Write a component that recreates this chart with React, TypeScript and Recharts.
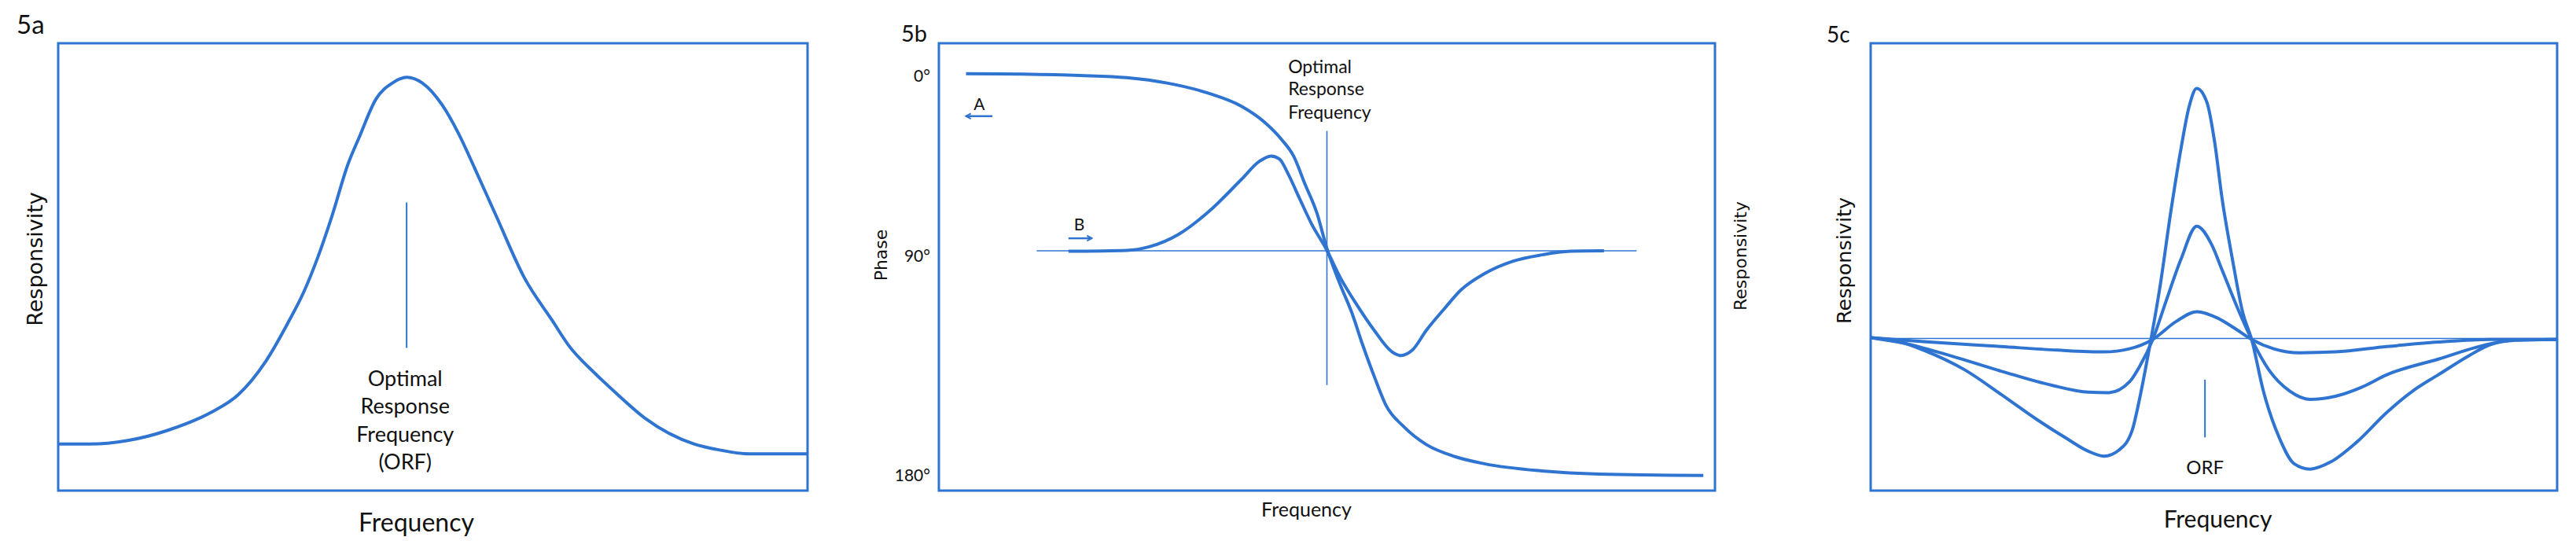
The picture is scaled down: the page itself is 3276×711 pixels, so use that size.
import React from 'react'
import {
  LineChart,
  Line,
  XAxis,
  YAxis,
  ReferenceArea,
  ReferenceLine,
  ReferenceDot,
} from 'recharts'

const BLUE = '#2f74d0'
const INK = '#111111'
const NARROW = 'Lato, "Noto Sans", sans-serif'
const WIDE = '"DejaVu Sans", Verdana, sans-serif'

// all panels use a 0..100 frequency axis and a 0..100 response axis (box fractions)

// 5a – single resonance curve
const resX = [0, 4.2, 9.3, 14.5, 20.3, 24.0, 27.7, 30.6, 32.8, 34.7, 36.5, 38.7, 40.2, 42.4, 44.6, 46.5, 48.6, 51.2, 53.4, 55.6, 58.5, 62.2, 65.9, 68.1, 71.7, 74.7, 78.3, 84.9, 87.9, 92.3, 100]
const resY = [10.4, 10.4, 11.2, 13.4, 17.4, 21.4, 28.9, 37.3, 44.5, 52.4, 61.2, 73.1, 79.1, 87.5, 91.1, 92.4, 91.1, 86.3, 79.9, 72.0, 61.2, 47.6, 38.1, 32.5, 26.1, 21.4, 16.2, 10.4, 9.2, 8.2, 8.2]
const orfA = { x: 46.5, top: 64.4, bottom: 31.9 }
const orfTextA = ['Optimal', 'Response', 'Frequency', '(ORF)']
const orfTextAY = [25.1, 18.9, 12.6, 6.4]

// 5b – phase (A) and responsivity (B)
const phaseX = [3.5, 10.8, 18.2, 24.2, 29.4, 34.6, 39.0, 42.0, 44.2, 45.7, 47.2, 48.7, 50.0, 51.7, 53.2, 54.6, 56.1, 57.6, 59.9, 62.8, 66.5, 70.3, 77.7, 85.1, 98.5]
const phaseY = [93.2, 93.1, 92.8, 92.3, 91.1, 88.9, 85.9, 82.3, 78.4, 74.8, 68.4, 62.1, 54.1, 46.1, 39.8, 32.6, 25.5, 19.1, 14.3, 10.3, 7.6, 6.0, 4.4, 3.7, 3.4]
const respBX = [16.7, 24.2, 27.1, 30.9, 35.3, 39.0, 41.3, 42.8, 43.9, 45.0, 46.5, 48.0, 50.0, 51.7, 53.9, 56.1, 58.4, 59.5, 61.0, 62.8, 65.1, 67.3, 70.3, 74.0, 77.7, 81.4, 85.7]
const respBY = [53.5, 53.7, 54.5, 57.3, 63.2, 69.6, 73.6, 74.8, 74.1, 70.8, 65.2, 59.7, 53.7, 47.7, 41.4, 35.8, 31.0, 30.2, 31.4, 35.8, 40.6, 44.9, 48.5, 51.3, 52.7, 53.5, 53.6]
const phaseTicks = [92.7, 52.4, 3.5]
const phaseTickLabels = ['0°', '90°', '180°']
const midLineB = { y: 53.6, from: 12.6, to: 89.9 }
const orfB = { x: 50.0, top: 80.4, bottom: 23.6 }
const orfTextB = ['Optimal', 'Response', 'Frequency']
const orfTextBY = [94.8, 89.8, 84.6]
const orfTextBX = 45.0

// 5c – three tuning curves of increasing sharpness
const lowX = [0, 7.7, 19.0, 27.2, 34.0, 37.7, 41.1, 44.5, 47.5, 50.5, 53.1, 55.5, 58.7, 62.5, 67.7, 75.2, 82.7, 90.2, 100]
const lowY = [34.2, 33.3, 32.2, 31.4, 31.0, 31.7, 33.8, 37.8, 40.0, 38.6, 36.2, 33.8, 31.7, 30.8, 31.0, 32.2, 33.2, 33.8, 33.8]
const midX = [0, 4.7, 11.5, 19.0, 26.5, 31.7, 34.7, 37.7, 39.2, 41.1, 43.0, 45.2, 47.5, 49.7, 51.2, 53.5, 55.5, 58.0, 61.0, 64.0, 67.7, 71.5, 75.2, 82.7, 90.2, 94.0, 100]
const midY = [34.2, 33.0, 30.2, 26.7, 23.5, 22.0, 21.9, 24.3, 27.8, 33.8, 42.2, 51.7, 59.1, 54.9, 49.3, 40.6, 33.8, 27.0, 22.3, 20.4, 21.1, 23.1, 25.9, 29.4, 32.8, 33.7, 33.8]
const highX = [0, 4.0, 7.7, 13.7, 19.0, 24.2, 28.7, 31.7, 34.0, 36.2, 38.1, 39.2, 40.4, 42.2, 43.7, 45.2, 46.4, 47.5, 49.0, 50.1, 51.2, 52.7, 54.2, 55.5, 57.2, 59.5, 61.7, 64.0, 67.0, 70.7, 75.2, 79.0, 82.7, 87.2, 90.2, 94.0, 100]
const highY = [34.2, 33.4, 31.4, 27.0, 21.5, 15.9, 11.5, 8.8, 7.7, 9.1, 13.5, 20.7, 30.2, 46.1, 62.1, 76.4, 85.9, 89.9, 86.7, 78.0, 65.2, 51.7, 39.8, 33.8, 22.3, 11.9, 6.0, 4.8, 6.4, 10.7, 17.5, 22.3, 25.9, 30.2, 32.6, 33.6, 33.8]
const baselineC = 34.0
const orfC = { x: 48.7, top: 24.8, bottom: 11.9 }
const orfTextCY = 5.2

const pts = (xs: number[], ys: number[]) => xs.map((x, i) => ({ x, y: ys[i] }))

const arrowShape = (p: any) => {
  const { x1, y1, x2, y2 } = p
  const ang = Math.atan2(y2 - y1, x2 - x1)
  const h = 7
  const a1 = ang + Math.PI - 0.5
  const a2 = ang + Math.PI + 0.5
  return (
    <g>
      <line x1={x1} y1={y1} x2={x2} y2={y2} stroke={BLUE} strokeWidth={2.5} />
      <path
        d={`M${x2 + h * Math.cos(a1)},${y2 + h * Math.sin(a1)} L${x2},${y2} L${x2 + h * Math.cos(a2)},${y2 + h * Math.sin(a2)}`}
        fill="none"
        stroke={BLUE}
        strokeWidth={2}
      />
    </g>
  )
}

const textDot = (key: string, x: number, y: number, value: string, size: number, position: 'center' | 'right' = 'center') => (
  <ReferenceDot
    key={key}
    x={x}
    y={y}
    r={0}
    fill="none"
    stroke="none"
    label={{ value, position, offset: 0, fill: INK, fontSize: size, fontFamily: NARROW }}
  />
)

const box = (
  <ReferenceArea x1={0} x2={100} y1={0} y2={100} fill="none" stroke={BLUE} strokeWidth={3} fillOpacity={0} />
)

const H = 711
const TOP = 55
const XAXIS_H = 87

const curve = (key: string, data: { x: number; y: number }[], width = 4) => (
  <Line
    key={key}
    data={data}
    dataKey="y"
    type="monotone"
    stroke={BLUE}
    strokeWidth={width}
    dot={false}
    activeDot={false}
    isAnimationActive={false}
  />
)

const PanelA = () => (
  <LineChart width={1100} height={H} margin={{ top: TOP, right: 73, bottom: 0, left: 0 }}>
    <XAxis
      type="number"
      dataKey="x"
      domain={[0, 100]}
      tick={false}
      tickLine={false}
      axisLine={false}
      height={XAXIS_H}
      label={{ value: 'Frequency', position: 'insideBottom', offset: 35, dx: -21, fill: INK, fontSize: 32, fontFamily: NARROW }}
    />
    <YAxis
      type="number"
      domain={[0, 100]}
      tick={false}
      tickLine={false}
      axisLine={false}
      width={74}
      label={{ value: 'Responsivity', angle: -90, position: 'insideLeft', offset: 44, dy: -10, fill: INK, fontSize: 27, fontFamily: WIDE, style: { textAnchor: 'middle' } }}
    />
    {box}
    <ReferenceLine
      segment={[{ x: orfA.x, y: orfA.top }, { x: orfA.x, y: orfA.bottom }]}
      stroke={BLUE}
      strokeWidth={2}
    />
    {orfTextA.map((t, i) => textDot('a' + i, orfA.x - 0.2, orfTextAY[i], t, 27))}
    {curve('res', pts(resX, resY))}
  </LineChart>
)

const PanelB = () => (
  <LineChart width={1150} height={H} margin={{ top: TOP, right: 0, bottom: 0, left: 0 }}>
    <XAxis
      type="number"
      dataKey="x"
      domain={[0, 100]}
      tick={false}
      tickLine={false}
      axisLine={false}
      height={XAXIS_H}
      label={{ value: 'Frequency', position: 'insideBottom', offset: 54, dx: -26, fill: INK, fontSize: 25, fontFamily: NARROW }}
    />
    <YAxis
      type="number"
      domain={[0, 100]}
      ticks={phaseTicks}
      tickFormatter={(v: number) => phaseTickLabels[phaseTicks.indexOf(v)] ?? ''}
      tick={{ fill: INK, fontSize: 21, fontFamily: NARROW }}
      tickLine={false}
      tickSize={0}
      tickMargin={11}
      axisLine={false}
      width={94}
      label={{ value: 'Phase', angle: -90, position: 'insideLeft', offset: 20, dy: -15, fill: INK, fontSize: 22, fontFamily: WIDE, style: { textAnchor: 'middle' } }}
    />
    <YAxis
      yAxisId="r"
      orientation="right"
      type="number"
      domain={[0, 100]}
      tick={false}
      tickLine={false}
      axisLine={false}
      width={69}
      label={{ value: 'Responsivity', angle: -90, position: 'insideRight', offset: 37, dy: -14, fill: INK, fontSize: 22, fontFamily: WIDE, style: { textAnchor: 'middle' } }}
    />
    {box}
    <ReferenceLine
      segment={[{ x: midLineB.from, y: midLineB.y }, { x: midLineB.to, y: midLineB.y }]}
      stroke={BLUE}
      strokeWidth={1.3}
    />
    <ReferenceLine
      segment={[{ x: orfB.x, y: orfB.top }, { x: orfB.x, y: orfB.bottom }]}
      stroke={BLUE}
      strokeWidth={1.6}
    />
    {orfTextB.map((t, i) => textDot('b' + i, orfTextBX, orfTextBY[i], t, 23, 'right'))}
    {textDot('A', 5.2, 86.4, 'A', 21)}
    {textDot('B', 18.1, 59.5, 'B', 21)}
    <ReferenceLine segment={[{ x: 6.9, y: 83.7 }, { x: 3.5, y: 83.7 }]} shape={arrowShape} />
    <ReferenceLine segment={[{ x: 16.7, y: 56.4 }, { x: 19.7, y: 56.4 }]} shape={arrowShape} />
    {curve('phase', pts(phaseX, phaseY))}
    {curve('resp', pts(respBX, respBY))}
  </LineChart>
)

const PanelC = () => (
  <LineChart width={1026} height={H} margin={{ top: TOP, right: 24, bottom: 0, left: 0 }}>
    <XAxis
      type="number"
      dataKey="x"
      domain={[0, 100]}
      tick={false}
      tickLine={false}
      axisLine={false}
      height={XAXIS_H}
      label={{ value: 'Frequency', position: 'insideBottom', offset: 40, dx: 5, fill: INK, fontSize: 30, fontFamily: NARROW }}
    />
    <YAxis
      type="number"
      domain={[0, 100]}
      tick={false}
      tickLine={false}
      axisLine={false}
      width={129}
      label={{ value: 'Responsivity', angle: -90, position: 'insideLeft', offset: 95, dy: -8, fill: INK, fontSize: 25.5, fontFamily: WIDE, style: { textAnchor: 'middle' } }}
    />
    {box}
    <ReferenceLine y={baselineC} stroke={BLUE} strokeWidth={1.5} />
    <ReferenceLine
      segment={[{ x: orfC.x, y: orfC.top }, { x: orfC.x, y: orfC.bottom }]}
      stroke={BLUE}
      strokeWidth={2}
    />
    {textDot('orf', orfC.x, orfTextCY, 'ORF', 24)}
    {curve('low', pts(lowX, lowY))}
    {curve('mid', pts(midX, midY))}
    {curve('high', pts(highX, highY))}
  </LineChart>
)

const panelTitles = ['5a', '5b', '5c']
const titleX = [21, 1146, 2323]
const titleY = [43, 53, 54]
const titleSize = [33, 29, 28]

export default function App() {
  return (
    <div style={{ position: 'absolute', left: 0, top: 0, width: 3276, height: H, background: '#fff', overflow: 'hidden' }}>
      <div style={{ position: 'absolute', left: 0, top: 0 }}>
        <PanelA />
      </div>
      <div style={{ position: 'absolute', left: 1100, top: 0 }}>
        <PanelB />
      </div>
      <div style={{ position: 'absolute', left: 2250, top: 0 }}>
        <PanelC />
      </div>
      <svg width={3276} height={70} style={{ position: 'absolute', left: 0, top: 0, pointerEvents: 'none' }}>
        {panelTitles.map((t, i) => (
          <text key={t} x={titleX[i]} y={titleY[i]} fontSize={titleSize[i]} fontFamily={NARROW} fill={INK}>
            {t}
          </text>
        ))}
      </svg>
    </div>
  )
}
